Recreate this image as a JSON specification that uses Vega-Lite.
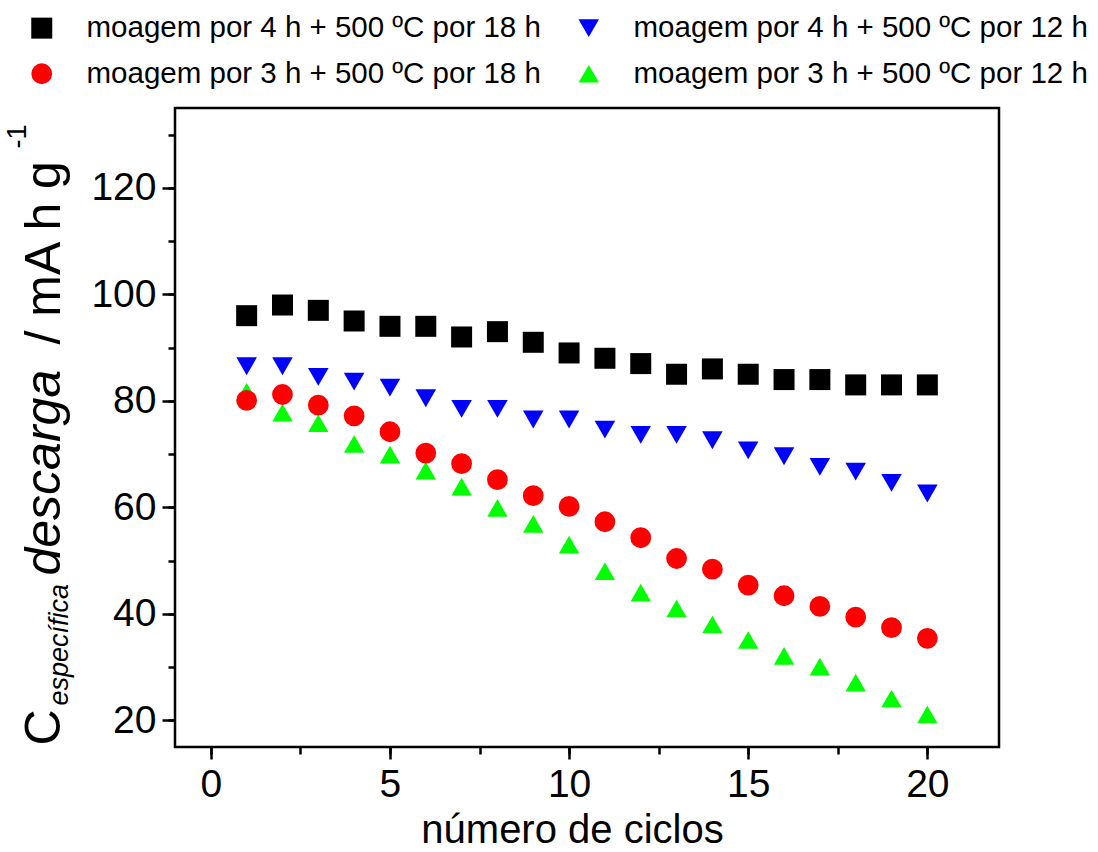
{
  "$schema": "https://vega.github.io/schema/vega-lite/v6.json",
  "width": 824,
  "height": 639,
  "autosize": "none",
  "padding": {"left": 175, "top": 108, "right": 99, "bottom": 105},
  "background": "white",
  "view": {"stroke": "black", "strokeWidth": 2.5},
  "config": {
    "axis": {"labelFont": "Liberation Sans", "titleFont": "Liberation Sans", "tickColor": "black", "labelColor": "black", "titleColor": "black", "grid": false, "domain": false, "titleFontWeight": "normal"},
    "legend": {"labelFont": "Liberation Sans"}
  },
  "data": {"values": [
    {"cycle": 1, "cap": 96, "series": "moagem por 4 h + 500 ºC por 18 h"},
    {"cycle": 2, "cap": 98, "series": "moagem por 4 h + 500 ºC por 18 h"},
    {"cycle": 3, "cap": 97, "series": "moagem por 4 h + 500 ºC por 18 h"},
    {"cycle": 4, "cap": 95, "series": "moagem por 4 h + 500 ºC por 18 h"},
    {"cycle": 5, "cap": 94, "series": "moagem por 4 h + 500 ºC por 18 h"},
    {"cycle": 6, "cap": 94, "series": "moagem por 4 h + 500 ºC por 18 h"},
    {"cycle": 7, "cap": 92, "series": "moagem por 4 h + 500 ºC por 18 h"},
    {"cycle": 8, "cap": 93, "series": "moagem por 4 h + 500 ºC por 18 h"},
    {"cycle": 9, "cap": 91, "series": "moagem por 4 h + 500 ºC por 18 h"},
    {"cycle": 10, "cap": 89, "series": "moagem por 4 h + 500 ºC por 18 h"},
    {"cycle": 11, "cap": 88, "series": "moagem por 4 h + 500 ºC por 18 h"},
    {"cycle": 12, "cap": 87, "series": "moagem por 4 h + 500 ºC por 18 h"},
    {"cycle": 13, "cap": 85, "series": "moagem por 4 h + 500 ºC por 18 h"},
    {"cycle": 14, "cap": 86, "series": "moagem por 4 h + 500 ºC por 18 h"},
    {"cycle": 15, "cap": 85, "series": "moagem por 4 h + 500 ºC por 18 h"},
    {"cycle": 16, "cap": 84, "series": "moagem por 4 h + 500 ºC por 18 h"},
    {"cycle": 17, "cap": 84, "series": "moagem por 4 h + 500 ºC por 18 h"},
    {"cycle": 18, "cap": 83, "series": "moagem por 4 h + 500 ºC por 18 h"},
    {"cycle": 19, "cap": 83, "series": "moagem por 4 h + 500 ºC por 18 h"},
    {"cycle": 20, "cap": 83, "series": "moagem por 4 h + 500 ºC por 18 h"},
    {"cycle": 1, "cap": 86.5, "series": "moagem por 4 h + 500 ºC por 12 h"},
    {"cycle": 2, "cap": 86.5, "series": "moagem por 4 h + 500 ºC por 12 h"},
    {"cycle": 3, "cap": 84.5, "series": "moagem por 4 h + 500 ºC por 12 h"},
    {"cycle": 4, "cap": 83.6, "series": "moagem por 4 h + 500 ºC por 12 h"},
    {"cycle": 5, "cap": 82.5, "series": "moagem por 4 h + 500 ºC por 12 h"},
    {"cycle": 6, "cap": 80.5, "series": "moagem por 4 h + 500 ºC por 12 h"},
    {"cycle": 7, "cap": 78.5, "series": "moagem por 4 h + 500 ºC por 12 h"},
    {"cycle": 8, "cap": 78.5, "series": "moagem por 4 h + 500 ºC por 12 h"},
    {"cycle": 9, "cap": 76.5, "series": "moagem por 4 h + 500 ºC por 12 h"},
    {"cycle": 10, "cap": 76.5, "series": "moagem por 4 h + 500 ºC por 12 h"},
    {"cycle": 11, "cap": 74.6, "series": "moagem por 4 h + 500 ºC por 12 h"},
    {"cycle": 12, "cap": 73.6, "series": "moagem por 4 h + 500 ºC por 12 h"},
    {"cycle": 13, "cap": 73.6, "series": "moagem por 4 h + 500 ºC por 12 h"},
    {"cycle": 14, "cap": 72.6, "series": "moagem por 4 h + 500 ºC por 12 h"},
    {"cycle": 15, "cap": 70.7, "series": "moagem por 4 h + 500 ºC por 12 h"},
    {"cycle": 16, "cap": 69.6, "series": "moagem por 4 h + 500 ºC por 12 h"},
    {"cycle": 17, "cap": 67.6, "series": "moagem por 4 h + 500 ºC por 12 h"},
    {"cycle": 18, "cap": 66.7, "series": "moagem por 4 h + 500 ºC por 12 h"},
    {"cycle": 19, "cap": 64.6, "series": "moagem por 4 h + 500 ºC por 12 h"},
    {"cycle": 20, "cap": 62.6, "series": "moagem por 4 h + 500 ºC por 12 h"},
    {"cycle": 1, "cap": 81.7, "series": "moagem por 3 h + 500 ºC por 12 h"},
    {"cycle": 2, "cap": 77.8, "series": "moagem por 3 h + 500 ºC por 12 h"},
    {"cycle": 3, "cap": 75.8, "series": "moagem por 3 h + 500 ºC por 12 h"},
    {"cycle": 4, "cap": 71.9, "series": "moagem por 3 h + 500 ºC por 12 h"},
    {"cycle": 5, "cap": 69.9, "series": "moagem por 3 h + 500 ºC por 12 h"},
    {"cycle": 6, "cap": 66.9, "series": "moagem por 3 h + 500 ºC por 12 h"},
    {"cycle": 7, "cap": 63.9, "series": "moagem por 3 h + 500 ºC por 12 h"},
    {"cycle": 8, "cap": 59.9, "series": "moagem por 3 h + 500 ºC por 12 h"},
    {"cycle": 9, "cap": 56.9, "series": "moagem por 3 h + 500 ºC por 12 h"},
    {"cycle": 10, "cap": 53.0, "series": "moagem por 3 h + 500 ºC por 12 h"},
    {"cycle": 11, "cap": 48.0, "series": "moagem por 3 h + 500 ºC por 12 h"},
    {"cycle": 12, "cap": 44.0, "series": "moagem por 3 h + 500 ºC por 12 h"},
    {"cycle": 13, "cap": 41.0, "series": "moagem por 3 h + 500 ºC por 12 h"},
    {"cycle": 14, "cap": 38.0, "series": "moagem por 3 h + 500 ºC por 12 h"},
    {"cycle": 15, "cap": 35.1, "series": "moagem por 3 h + 500 ºC por 12 h"},
    {"cycle": 16, "cap": 32.1, "series": "moagem por 3 h + 500 ºC por 12 h"},
    {"cycle": 17, "cap": 30.1, "series": "moagem por 3 h + 500 ºC por 12 h"},
    {"cycle": 18, "cap": 27.1, "series": "moagem por 3 h + 500 ºC por 12 h"},
    {"cycle": 19, "cap": 24.1, "series": "moagem por 3 h + 500 ºC por 12 h"},
    {"cycle": 20, "cap": 21.1, "series": "moagem por 3 h + 500 ºC por 12 h"},
    {"cycle": 1, "cap": 80.1, "series": "moagem por 3 h + 500 ºC por 18 h"},
    {"cycle": 2, "cap": 81.2, "series": "moagem por 3 h + 500 ºC por 18 h"},
    {"cycle": 3, "cap": 79.2, "series": "moagem por 3 h + 500 ºC por 18 h"},
    {"cycle": 4, "cap": 77.2, "series": "moagem por 3 h + 500 ºC por 18 h"},
    {"cycle": 5, "cap": 74.2, "series": "moagem por 3 h + 500 ºC por 18 h"},
    {"cycle": 6, "cap": 70.2, "series": "moagem por 3 h + 500 ºC por 18 h"},
    {"cycle": 7, "cap": 68.2, "series": "moagem por 3 h + 500 ºC por 18 h"},
    {"cycle": 8, "cap": 65.2, "series": "moagem por 3 h + 500 ºC por 18 h"},
    {"cycle": 9, "cap": 62.2, "series": "moagem por 3 h + 500 ºC por 18 h"},
    {"cycle": 10, "cap": 60.2, "series": "moagem por 3 h + 500 ºC por 18 h"},
    {"cycle": 11, "cap": 57.3, "series": "moagem por 3 h + 500 ºC por 18 h"},
    {"cycle": 12, "cap": 54.3, "series": "moagem por 3 h + 500 ºC por 18 h"},
    {"cycle": 13, "cap": 50.4, "series": "moagem por 3 h + 500 ºC por 18 h"},
    {"cycle": 14, "cap": 48.4, "series": "moagem por 3 h + 500 ºC por 18 h"},
    {"cycle": 15, "cap": 45.4, "series": "moagem por 3 h + 500 ºC por 18 h"},
    {"cycle": 16, "cap": 43.4, "series": "moagem por 3 h + 500 ºC por 18 h"},
    {"cycle": 17, "cap": 41.4, "series": "moagem por 3 h + 500 ºC por 18 h"},
    {"cycle": 18, "cap": 39.4, "series": "moagem por 3 h + 500 ºC por 18 h"},
    {"cycle": 19, "cap": 37.4, "series": "moagem por 3 h + 500 ºC por 18 h"},
    {"cycle": 20, "cap": 35.4, "series": "moagem por 3 h + 500 ºC por 18 h"}
  ]},
  "resolve": {"axis": {"x": "independent", "y": "independent"}},
  "layer": [
    {
      "mark": {"type": "point", "filled": true, "opacity": 1, "strokeWidth": 0},
      "encoding": {
        "x": {"field": "cycle", "type": "quantitative", "scale": {"domain": [-1, 22], "nice": false, "zero": false},
          "axis": {"orient": "bottom", "values": [0, 5, 10, 15, 20], "tickSize": 12, "tickWidth": 2.5, "labelFontSize": 39, "labelPadding": 6, "title": "número de ciclos", "titleFontSize": 40, "titlePadding": 6, "titleX": 397, "titleAlign": "center"}},
        "y": {"field": "cap", "type": "quantitative", "scale": {"domain": [15, 135], "nice": false, "zero": false},
          "axis": {"orient": "left", "values": [20, 40, 60, 80, 100, 120], "tickSize": 13, "tickWidth": 2.5, "labelFontSize": 39, "labelPadding": 6, "title": null}},
        "color": {"field": "series", "type": "nominal",
          "scale": {"domain": ["moagem por 4 h + 500 ºC por 18 h", "moagem por 3 h + 500 ºC por 18 h", "moagem por 4 h + 500 ºC por 12 h", "moagem por 3 h + 500 ºC por 12 h"], "range": ["#000000", "#ff0000", "#0000ff", "#00ff00"]},
          "legend": {"title": null, "orient": "none", "legendX": -148, "legendY": -95, "columns": 2, "labelFontSize": 29.5, "labelColor": "black", "labelOffset": 30, "columnPadding": 33, "rowPadding": 15, "padding": 0, "symbolStrokeWidth": 0, "symbolOpacity": 1, "labelLimit": 700}},
        "shape": {"field": "series", "type": "nominal",
          "scale": {"domain": ["moagem por 4 h + 500 ºC por 18 h", "moagem por 3 h + 500 ºC por 18 h", "moagem por 4 h + 500 ºC por 12 h", "moagem por 3 h + 500 ºC por 12 h"], "range": ["square", "circle", "triangle-down", "triangle-up"]}},
        "size": {"field": "series", "type": "nominal",
          "scale": {"domain": ["moagem por 4 h + 500 ºC por 18 h", "moagem por 3 h + 500 ºC por 18 h", "moagem por 4 h + 500 ºC por 12 h", "moagem por 3 h + 500 ºC por 12 h"], "range": [441, 415, 660, 660]}}
      }
    },
    {
      "mark": {"type": "point", "opacity": 0},
      "encoding": {
        "x": {"field": "cycle", "type": "quantitative", "scale": {"domain": [-1, 22], "nice": false, "zero": false},
          "axis": {"orient": "bottom", "values": [0, 2.5, 5, 7.5, 10, 12.5, 15, 17.5, 20], "tickSize": 7, "tickWidth": 2.5, "labels": false, "title": null}}
      }
    },
    {
      "mark": {"type": "point", "opacity": 0},
      "encoding": {
        "y": {"field": "cap", "type": "quantitative", "scale": {"domain": [15, 135], "nice": false, "zero": false},
          "axis": {"orient": "left", "values": [20, 30, 40, 50, 60, 70, 80, 90, 100, 110, 120, 130], "tickSize": 7, "tickWidth": 2.5, "labels": false, "title": null}}
      }
    },
    {
      "mark": {"type": "point", "opacity": 0},
      "encoding": {
        "y": {"field": "cap", "type": "quantitative", "scale": {"domain": [15, 135], "nice": false, "zero": false},
          "axis": {"orient": "left", "ticks": false, "labels": false, "title": "C", "titleFontSize": 50, "titleAngle": 270, "titleAlign": "left", "titleBaseline": "alphabetic", "titleX": -116, "titleY": 637}}
      }
    },
    {
      "mark": {"type": "point", "opacity": 0},
      "encoding": {
        "y": {"field": "cap", "type": "quantitative", "scale": {"domain": [15, 135], "nice": false, "zero": false},
          "axis": {"orient": "left", "ticks": false, "labels": false, "title": "específica", "titleFontSize": 27, "titleFontStyle": "italic", "titleAngle": 270, "titleAlign": "left", "titleBaseline": "alphabetic", "titleX": -108, "titleY": 597}}
      }
    },
    {
      "mark": {"type": "point", "opacity": 0},
      "encoding": {
        "y": {"field": "cap", "type": "quantitative", "scale": {"domain": [15, 135], "nice": false, "zero": false},
          "axis": {"orient": "left", "ticks": false, "labels": false, "title": "descarga", "titleFontSize": 50, "titleFontStyle": "italic", "titleAngle": 270, "titleAlign": "left", "titleBaseline": "alphabetic", "titleX": -116, "titleY": 467}}
      }
    },
    {
      "mark": {"type": "point", "opacity": 0},
      "encoding": {
        "y": {"field": "cap", "type": "quantitative", "scale": {"domain": [15, 135], "nice": false, "zero": false},
          "axis": {"orient": "left", "ticks": false, "labels": false, "title": "/ mA h g", "titleFontSize": 50, "titleAngle": 270, "titleAlign": "left", "titleBaseline": "alphabetic", "titleX": -116, "titleY": 236}}
      }
    },
    {
      "mark": {"type": "point", "opacity": 0},
      "encoding": {
        "y": {"field": "cap", "type": "quantitative", "scale": {"domain": [15, 135], "nice": false, "zero": false},
          "axis": {"orient": "left", "ticks": false, "labels": false, "title": "-1", "titleFontSize": 27, "titleAngle": 270, "titleAlign": "left", "titleBaseline": "alphabetic", "titleX": -150, "titleY": 40}}
      }
    }
  ]
}
